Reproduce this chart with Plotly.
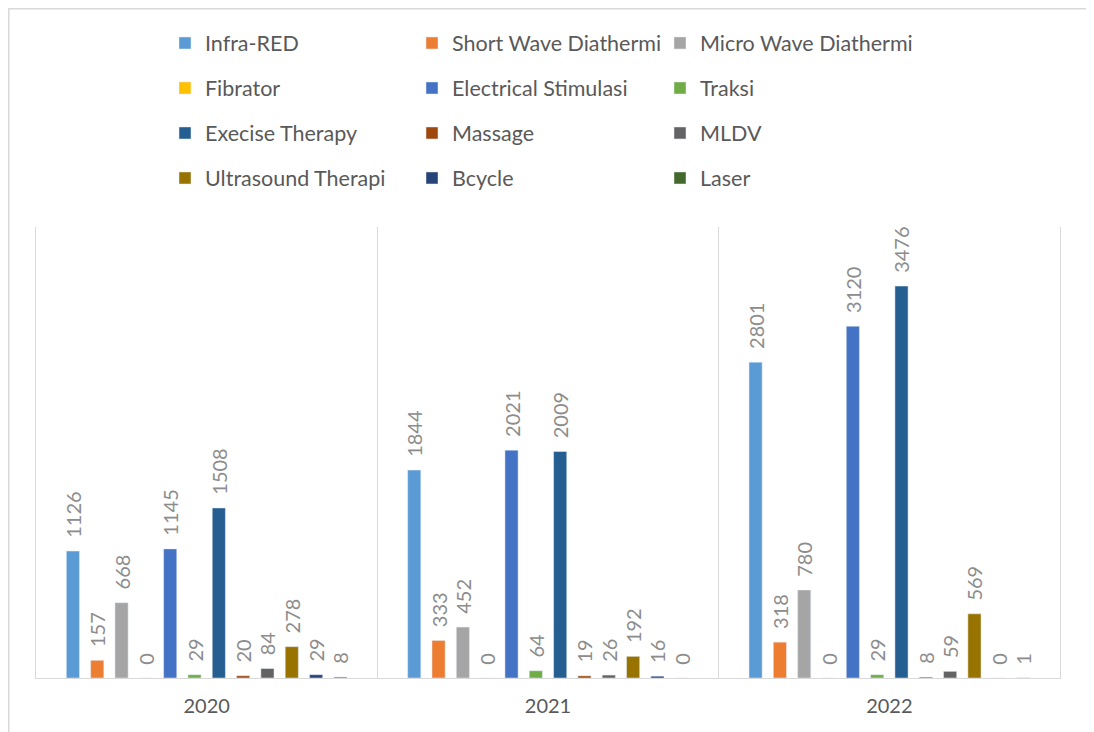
import plotly.graph_objects as go

tahun = ["2020", "2021", "2022"]

seri = [
    "Infra-RED", "Short Wave Diathermi", "Micro Wave Diathermi",
    "Fibrator", "Electrical Stimulasi", "Traksi",
    "Execise Therapy", "Massage", "MLDV",
    "Ultrasound Therapi", "Bcycle", "Laser",
]

infra_red = [1126, 1844, 2801]
short_wave = [157, 333, 318]
micro_wave = [668, 452, 780]
fibrator = [0, 0, 0]
electrical = [1145, 2021, 3120]
traksi = [29, 64, 29]
execise = [1508, 2009, 3476]
massage = [20, 19, 8]
mldv = [84, 26, 59]
ultrasound = [278, 192, 569]
bcycle = [29, 16, 0]
laser = [8, 0, 1]

nilai = [infra_red, short_wave, micro_wave, fibrator, electrical, traksi,
         execise, massage, mldv, ultrasound, bcycle, laser]

WARNA = ["#5B9BD5", "#ED7D31", "#A5A5A5", "#FFC000", "#4472C4", "#70AD47",
         "#255E91", "#9E480E", "#636363", "#997300", "#264478", "#43682B"]

FONT = "Lato"

# halaman punya margin body 8px, jadi ukuran figure dikurangi
W, H = 1086, 724
L, R, T, B = 28, 34, 219, 54
PW, PH = W - L - R, H - T - B


def px_x(x):
    return (x - L) / PW


def px_y(y):
    return (H - B - y) / PH


def nama_legend(i):
    return "legend" if i == 0 else f"legend{i + 1}"


fig = go.Figure()
for i, (nama, y) in enumerate(zip(seri, nilai)):
    fig.add_trace(go.Bar(
        x=tahun, y=y, name=nama,
        marker_color=WARNA[i],
        text=y,
        texttemplate="\u00a0\u00a0%{y}",
        textposition="outside",
        textangle=-90,
        constraintext="none",
        cliponaxis=False,
        textfont=dict(family=FONT, size=20, color="#8C8C8C"),
        legend=nama_legend(i),
        showlegend=True,
    ))

# legend 3 kolom x 4 baris, satu legend per item
kolom_x = [157, 404, 652]
baris_y = [35, 80, 125, 170]
legends = {}
for i in range(len(seri)):
    legends[nama_legend(i)] = dict(
        orientation="h",
        x=px_x(kolom_x[i % 3]), xanchor="left",
        y=px_y(baris_y[i // 3]), yanchor="middle",
        font=dict(family=FONT, size=21.5, color="#595959"),
        bgcolor="rgba(0,0,0,0)",
        itemclick=False,
    )

fig.update_layout(
    width=W, height=H,
    margin=dict(l=L, r=R, t=T, b=B),
    paper_bgcolor="white",
    plot_bgcolor="white",
    showlegend=True,
    barmode="group",
    bargap=0.145,
    bargroupgap=0.46,
    font=dict(family=FONT, color="#595959"),
    **legends,
    shapes=[dict(
        type="rect", xref="paper", yref="paper",
        x0=px_x(0.8), x1=px_x(1081),
        y0=px_y(740), y1=px_y(0.8),
        line=dict(color="#D9D9D9", width=1.5),
        fillcolor="rgba(0,0,0,0)", layer="below",
    )],
)

fig.update_xaxes(
    type="category",
    tickson="boundaries",
    showgrid=True, gridcolor="#D9D9D9", gridwidth=1.3,
    showline=True, linecolor="#D9D9D9", linewidth=1.3,
    ticks="",
    ticklabelstandoff=10,
    tickfont=dict(family=FONT, size=20, color="#595959"),
)
fig.update_yaxes(
    range=[0, 4000],
    showgrid=False, zeroline=False,
    showticklabels=False, ticks="",
    showline=True, mirror=True, linecolor="#D9D9D9", linewidth=1.3,
)

fig.write_html("out.html")
